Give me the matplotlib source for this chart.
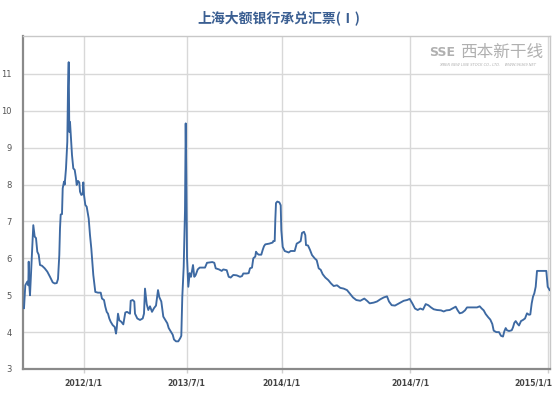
import matplotlib
matplotlib.use("Agg")
import matplotlib.pyplot as plt
import matplotlib.transforms as mtransforms

plt.rcParams['font.family'] = ['Noto Sans CJK SC', 'DejaVu Sans']

title = "上海大额银行承兑汇票(Ⅰ)"

# observation index (category axis, irregular sampling)
obs = [24, 25.3, 27.3, 28.3, 28.7, 29.3, 30, 33.3, 34.7, 36, 37.3, 38.7, 40, 42, 44.7, 47.3, 50, 52.7, 54.7, 56.7,
       58, 59.3, 60, 60.7, 62, 62.7, 64, 64.7, 66, 67.3, 68, 68.7, 69.3, 70, 70.7, 72, 73.3, 74.7, 76, 76.7,
       78, 79.3, 80, 81.3, 82.7, 83.3, 84, 85.3, 86.7, 88.7, 90, 91.3, 93.3, 95.3, 98, 100.7, 102, 104, 105.3, 106.7,
       108, 109.3, 110.7, 112.7, 114.7, 116, 116.7, 118, 119.3, 121.3, 123.3, 125.3, 127, 130, 130.7, 132.7, 134.3, 135, 137.3, 140,
       142.7, 144, 145, 146.7, 148.3, 150, 152, 154, 156, 158, 159.3, 161.3, 163.3, 165.3, 167.3, 168.7, 170.7, 172.7, 174, 176,
       178.3, 180.3, 181.3, 182.3, 183.7, 185, 185.7, 186.3, 187, 188.3, 189.7, 191, 193, 194.3, 195.7, 197.7, 199.7, 205, 207, 212.3,
       214.3, 215.7, 219, 221.7, 223.3, 226.7, 228.7, 230.7, 233.3, 236.7, 240, 242, 243.3, 246.7, 248.7, 250, 252, 253.3, 255.3, 256,
       257.3, 258.7, 261.3, 262.7, 264, 265.3, 269.3, 272.7, 273.3, 274.7, 275.3, 276, 277.3, 279.3, 280.7, 281.3, 282.7, 284.7, 286.7, 288.7,
       290.7, 294.7, 296.7, 298.7, 300.7, 302, 304, 305.3, 306, 308, 310, 312, 314.7, 316.7, 318.7, 320.7, 322.7, 325.3, 328.3, 331,
       333.7, 337, 340.3, 343.7, 347, 349.7, 353, 356.3, 360.3, 364.3, 367, 369.7, 373.7, 377, 380.3, 383.7, 387, 389, 391.7, 395,
       397.7, 400.3, 403.7, 407, 409.7, 412.3, 415, 417.7, 420.3, 423, 425.7, 428.3, 431, 433.7, 437, 441, 443.7, 446.3, 449.7, 452.3,
       455.7, 457.7, 459.7, 462.3, 465, 467, 471.7, 477, 479.7, 481.7, 483.7, 485.7, 488.3, 490.3, 492.3, 493.7, 496.3, 499, 501, 503,
       504.3, 505.7, 507, 509, 511.7, 513, 514.3, 515.7, 517.7, 519, 521, 523, 525, 527, 529, 530.3, 531.7, 533, 534.3, 535.7,
       537, 538.3, 546.3, 547.7, 549.7]

rate = [4.65, 5.27, 5.37, 5.27, 5.91, 5.27, 5.0, 6.9, 6.59, 6.55, 6.18, 6.1, 5.82, 5.8, 5.73, 5.64, 5.5, 5.35, 5.32, 5.33,
        5.44, 6.09, 6.81, 7.19, 7.2, 7.9, 8.08, 8.0, 8.44, 9.16, 10.6, 11.32, 9.43, 9.7, 9.38, 8.8, 8.44, 8.4, 8.17, 7.99,
        8.1, 8.06, 7.81, 7.72, 7.74, 8.06, 7.72, 7.45, 7.4, 7.08, 6.63, 6.27, 5.55, 5.09, 5.07, 5.07, 4.91, 4.87, 4.69, 4.55,
        4.5, 4.37, 4.28, 4.19, 4.14, 3.96, 4.1, 4.5, 4.32, 4.28, 4.21, 4.53, 4.55, 4.5, 4.85, 4.87, 4.83, 4.5, 4.37, 4.33,
        4.37, 4.5, 5.18, 4.76, 4.6, 4.7, 4.55, 4.65, 4.72, 5.14, 4.95, 4.83, 4.42, 4.33, 4.24, 4.11, 4.02, 3.93, 3.8, 3.75,
        3.75, 3.84, 3.9, 4.96, 5.77, 7.3, 9.66, 8.2, 6.04, 5.23, 5.6, 5.5, 5.82, 5.5, 5.55, 5.7, 5.75, 5.75, 5.88, 5.9,
        5.88, 5.73, 5.7, 5.66, 5.7, 5.68, 5.5, 5.48, 5.55, 5.54, 5.5, 5.52, 5.59, 5.59, 5.6, 5.73, 5.75, 6.0, 6.05, 6.18,
        6.13, 6.1, 6.1, 6.23, 6.33, 6.38, 6.4, 6.43, 6.47, 6.47, 7.04, 7.5, 7.54, 7.52, 7.44, 6.77, 6.31, 6.2, 6.18, 6.16,
        6.2, 6.2, 6.4, 6.43, 6.47, 6.69, 6.72, 6.63, 6.36, 6.35, 6.23, 6.09, 6.0, 5.95, 5.73, 5.69, 5.57, 5.48, 5.41, 5.32,
        5.25, 5.27, 5.2, 5.18, 5.14, 5.05, 4.94, 4.87, 4.85, 4.91, 4.85, 4.78, 4.8, 4.83, 4.89, 4.94, 4.97, 4.83, 4.73, 4.72,
        4.76, 4.8, 4.85, 4.87, 4.9, 4.78, 4.64, 4.6, 4.64, 4.61, 4.76, 4.73, 4.67, 4.62, 4.6, 4.59, 4.56, 4.59, 4.6, 4.64,
        4.69, 4.59, 4.51, 4.53, 4.59, 4.67, 4.67, 4.67, 4.7, 4.64, 4.59, 4.49, 4.4, 4.34, 4.22, 4.04, 4.0, 4.0, 3.9, 3.88,
        4.02, 4.11, 4.05, 4.03, 4.05, 4.13, 4.25, 4.3, 4.22, 4.18, 4.3, 4.33, 4.37, 4.51, 4.47, 4.48, 4.78, 4.96, 5.05, 5.23,
        5.66, 5.66, 5.66, 5.23, 5.14]

tick_pos = [83.5, 186.5, 281.5, 410, 548]
tick_labels = ["2012/1/1", "2013/7/1", "2014/1/1", "2014/7/1", "2015/1/1"]
y_ticks = [3, 4, 5, 6, 7, 8, 9, 10, 11]

W, H = 559, 396
fig = plt.figure(figsize=(W / 100, H / 100), dpi=100)
ax = fig.add_axes([22.7 / W, 1 - 369 / H, (549.5 - 22.7) / W, (369 - 36) / H])

ax.plot(obs, rate, color='#3d69a2', lw=1.35, solid_joinstyle='round', zorder=3)

ax.set_xlim(22.7, 549.5)
ax.set_ylim(3, 12.03)
ax.set_yticks(y_ticks)
ax.set_yticklabels([str(v) for v in y_ticks])
ax.set_xticks(tick_pos)
ax.set_xticklabels(tick_labels)

ax.grid(True, color='#d8d8d8', lw=1.0, zorder=0)
ax.set_axisbelow(True)

for s in ['top', 'right']:
    ax.spines[s].set_color('#c8c8c8')
    ax.spines[s].set_linewidth(1.0)
for s in ['left', 'bottom']:
    ax.spines[s].set_color('#8a8a8a')
    ax.spines[s].set_linewidth(1.6)

ax.tick_params(axis='y', length=0, pad=8, labelsize=6, labelcolor='#555555')
ax.tick_params(axis='x', length=3, width=1, color='#d0d0d0', pad=3.5, labelsize=5.6,
               labelcolor='#444444')
for lbl in ax.get_xticklabels():
    lbl.set_fontweight('bold')
    lbl.set_family('DejaVu Sans')
for lbl in ax.get_yticklabels():
    lbl.set_family('DejaVu Sans')

# last label is shifted left to stay inside the figure
last = ax.get_xticklabels()[-1]
last.set_horizontalalignment('right')
last.set_transform(last.get_transform() + mtransforms.ScaledTranslation(4 / 100, 0, fig.dpi_scale_trans))

fig.text(279 / W, 1 - 18 / H, title, ha='center', va='center', fontsize=10, fontweight='bold',
         color='#3b5f92', family=['Noto Sans CJK SC', 'DejaVu Sans'])

# watermark
fig.text(502 / W, 1 - 52 / H, "西本新干线", ha='center', va='center', fontsize=12, style='italic',
         color='#b0b0b0', family=['Noto Sans CJK SC', 'DejaVu Sans'],
         bbox=dict(facecolor='white', edgecolor='none', pad=1))
fig.text(442 / W, 1 - 52 / H, "SSE", ha='center', va='center', fontsize=9, fontweight='bold',
         color='#b0b0b0', family='DejaVu Sans')
fig.text(488 / W, 1 - 65 / H, "XIBEN NEW LINE STOCK CO., LTD.    WWW.96369.NET", ha='center', va='center',
         fontsize=2.6, style='italic', color='#b0b0b0', family='DejaVu Sans')

fig.savefig("out.png", dpi=100)
